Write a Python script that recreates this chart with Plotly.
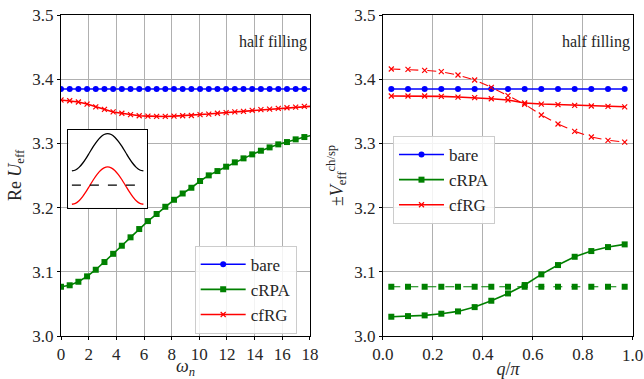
import plotly.graph_objects as go

# ---------------- data ----------------
# left panel: Matsubara frequencies omega_n = 2*pi*n*T (T = 0.1)
omega_n = [0.0, 0.628, 1.257, 1.885, 2.513, 3.142, 3.770, 4.398, 5.027, 5.655,
           6.283, 6.912, 7.540, 8.168, 8.796, 9.425, 10.053, 10.681, 11.310, 11.938,
           12.566, 13.195, 13.823, 14.451, 15.080, 15.708, 16.336, 16.965, 17.593, 18.221]
bare_left = [3.3847] * 30
crpa_left = [3.0767, 3.0790, 3.0845, 3.0929, 3.1032, 3.1152, 3.1280, 3.1406, 3.1537, 3.1666,
             3.1790, 3.1900, 3.2013, 3.2122, 3.2220, 3.2309, 3.2414, 3.2502, 3.2569, 3.2637,
             3.2705, 3.2767, 3.2829, 3.2886, 3.2938, 3.2985, 3.3021, 3.3063, 3.3099, 3.3130]
cfrg_left = [3.3676, 3.3665, 3.3645, 3.3613, 3.3570, 3.3530, 3.3490, 3.3470, 3.3447, 3.3430,
             3.3425, 3.3420, 3.3420, 3.3425, 3.3430, 3.3435, 3.3447, 3.3457, 3.3470, 3.3480,
             3.3490, 3.3500, 3.3515, 3.3525, 3.3535, 3.3545, 3.3555, 3.3566, 3.3576, 3.3580]

# right panel: momentum q/pi
q_over_pi = [0.0333, 0.1, 0.1667, 0.2333, 0.3, 0.3667, 0.4333, 0.5, 0.5667, 0.6333,
             0.7, 0.7667, 0.8333, 0.9, 0.9667]
bare_right = [3.3847] * 15
crpa_ch = [3.0300, 3.0310, 3.0321, 3.0347, 3.0383, 3.0450, 3.0549, 3.0663, 3.0794, 3.0960,
           3.1105, 3.1234, 3.1323, 3.1385, 3.1427]
crpa_sp = [3.0767] * 15
cfrg_ch = [3.3738, 3.3738, 3.3738, 3.3733, 3.3722, 3.3712, 3.3696, 3.3676, 3.3629, 3.3613,
           3.3603, 3.3593, 3.3582, 3.3577, 3.3570]
cfrg_sp = [3.4159, 3.4154, 3.4138, 3.4117, 3.4065, 3.3987, 3.3873, 3.3743, 3.3609, 3.3442,
           3.3302, 3.3188, 3.3099, 3.3048, 3.3021]

# inset schematic (cosine-like band shapes)
inset_x = [-1.0, -0.9, -0.8, -0.7, -0.6, -0.5, -0.4, -0.3, -0.2, -0.1, 0.0,
           0.1, 0.2, 0.3, 0.4, 0.5, 0.6, 0.7, 0.8, 0.9, 1.0]
inset_black = [0.474, 0.486, 0.520, 0.573, 0.639, 0.714, 0.788, 0.854, 0.907, 0.941, 0.953,
               0.941, 0.907, 0.854, 0.788, 0.714, 0.639, 0.573, 0.520, 0.486, 0.474]
inset_red = [0.047, 0.059, 0.093, 0.146, 0.212, 0.287, 0.361, 0.427, 0.480, 0.514, 0.526,
             0.514, 0.480, 0.427, 0.361, 0.287, 0.212, 0.146, 0.093, 0.059, 0.047]
inset_dash_x = [-1.0, 1.0]
inset_dash_y = [0.291, 0.291]

x_ticks_left = [0, 2, 4, 6, 8, 10, 12, 14, 16, 18]
x_ticks_right = [0.0, 0.2, 0.4, 0.6, 0.8, 1.0]
x_ticktext_right = ["0.0", "0.2", "0.4", "0.6", "0.8", ""]   # last label drawn as annotation (edge of page)
y_ticks = [3.0, 3.1, 3.2, 3.3, 3.4, 3.5]

BLUE = "#0000ff"
GREEN = "#008000"
RED = "#ff0000"
FONT = "Liberation Serif"
TXT = "#262626"

fig = go.Figure()

# ---- left panel ----
fig.add_trace(go.Scatter(x=omega_n, y=bare_left, mode="lines+markers", name="bare",
                         line=dict(color=BLUE, width=1.6), marker=dict(symbol="circle", size=6, color=BLUE),
                         xaxis="x", yaxis="y", legend="legend"))
fig.add_trace(go.Scatter(x=omega_n, y=crpa_left, mode="lines+markers", name="cRPA",
                         line=dict(color=GREEN, width=1.6), marker=dict(symbol="square", size=6, color=GREEN),
                         xaxis="x", yaxis="y", legend="legend"))
fig.add_trace(go.Scatter(x=omega_n, y=cfrg_left, mode="lines+markers", name="cfRG",
                         line=dict(color=RED, width=1.6),
                         marker=dict(symbol="x-thin", size=5, color=RED, line=dict(color=RED, width=1.2)),
                         xaxis="x", yaxis="y", legend="legend"))

# ---- right panel ----
fig.add_trace(go.Scatter(x=q_over_pi, y=bare_right, mode="lines+markers", name="bare",
                         line=dict(color=BLUE, width=1.6), marker=dict(symbol="circle", size=6, color=BLUE),
                         xaxis="x2", yaxis="y2", legend="legend2"))
fig.add_trace(go.Scatter(x=q_over_pi, y=crpa_ch, mode="lines+markers", name="cRPA",
                         line=dict(color=GREEN, width=1.6), marker=dict(symbol="square", size=6, color=GREEN),
                         xaxis="x2", yaxis="y2", legend="legend2"))
fig.add_trace(go.Scatter(x=q_over_pi, y=crpa_sp, mode="lines+markers", name="cRPA sp", showlegend=False,
                         line=dict(color=GREEN, width=1.2, dash="dash"),
                         marker=dict(symbol="square", size=6, color=GREEN),
                         xaxis="x2", yaxis="y2"))
fig.add_trace(go.Scatter(x=q_over_pi, y=cfrg_ch, mode="lines+markers", name="cfRG",
                         line=dict(color=RED, width=1.6),
                         marker=dict(symbol="x-thin", size=5, color=RED, line=dict(color=RED, width=1.2)),
                         xaxis="x2", yaxis="y2", legend="legend2"))
fig.add_trace(go.Scatter(x=q_over_pi, y=cfrg_sp, mode="lines+markers", name="cfRG sp", showlegend=False,
                         line=dict(color=RED, width=1.1, dash="dash"),
                         marker=dict(symbol="x-thin", size=5, color=RED, line=dict(color=RED, width=1.2)),
                         xaxis="x2", yaxis="y2"))

# ---- inset ----
fig.add_trace(go.Scatter(x=inset_x, y=inset_black, mode="lines", line=dict(color="black", width=1.3, shape="spline"),
                         showlegend=False, xaxis="x3", yaxis="y3"))
fig.add_trace(go.Scatter(x=inset_x, y=inset_red, mode="lines", line=dict(color=RED, width=1.3, shape="spline"),
                         showlegend=False, xaxis="x3", yaxis="y3"))
fig.add_trace(go.Scatter(x=inset_dash_x, y=inset_dash_y, mode="lines", line=dict(color="black", width=1.3, dash="dash"),
                         showlegend=False, xaxis="x3", yaxis="y3"))

axis_common = dict(showline=True, linecolor="black", linewidth=1, mirror=True,
                   showgrid=True, gridcolor="#b0b0b0", gridwidth=1, automargin=False,
                   ticks="outside", ticklen=3, tickcolor="black", zeroline=False,
                   ticklabeloverflow="allow",
                   tickfont=dict(family=FONT, size=17, color=TXT))

fig.update_layout(
    width=644, height=379,
    margin=dict(l=61, r=11, t=15, b=43),
    plot_bgcolor="white", paper_bgcolor="white",
    font=dict(family=FONT, size=18, color=TXT),
    xaxis=dict(domain=[0, 0.4353], range=[0, 18], tickvals=x_ticks_left, anchor="y",
               title=dict(text="<i>ω</i><sub><i>n</i></sub>", standoff=5, font=dict(size=18)), **axis_common),
    yaxis=dict(domain=[0, 1], range=[3.0, 3.5], tickvals=y_ticks, tickformat=".1f", anchor="x",
               title=dict(text="Re <i>U</i><sub>eff</sub>", standoff=6, font=dict(size=18)), **axis_common),
    xaxis2=dict(domain=[0.5629, 1], range=[0, 1], tickvals=x_ticks_right, ticktext=x_ticktext_right, anchor="y2",
                title=dict(text="<i>q</i>/<i>π</i>", standoff=5, font=dict(size=18)), **axis_common),
    yaxis2=dict(domain=[0, 1], range=[3.0, 3.5], tickvals=y_ticks, tickformat=".1f", anchor="x2",
                title=dict(text="±<i>V</i><sub>eff</sub><sup>ch/sp</sup>", standoff=6, font=dict(size=18)), **axis_common),
    xaxis3=dict(domain=[0.0128, 0.1503], range=[-1.1, 1.1], anchor="y3", showgrid=False, zeroline=False,
                showticklabels=False, ticks="", showline=True, mirror=True, linecolor="black", linewidth=1),
    yaxis3=dict(domain=[0.399, 0.642], range=[0, 1], anchor="x3", showgrid=False, zeroline=False,
                showticklabels=False, ticks="", showline=True, mirror=True, linecolor="black", linewidth=1),
    legend=dict(x=0.2337, y=0.2813, xanchor="left", yanchor="top", itemwidth=45,
                bgcolor="rgba(255,255,255,0.85)", bordercolor="#cccccc", borderwidth=1,
                font=dict(family=FONT, size=17, color=TXT)),
    legend2=dict(x=0.5804, y=0.623, xanchor="left", yanchor="top", itemwidth=45,
                 bgcolor="rgba(255,255,255,0.85)", bordercolor="#cccccc", borderwidth=1,
                 font=dict(family=FONT, size=17, color=TXT)),
    annotations=[
        dict(text="half filling", xref="x domain", yref="y domain", x=0.995, y=0.915,
             xanchor="right", yanchor="middle", showarrow=False, font=dict(family=FONT, size=16, color=TXT)),
        dict(text="half filling", xref="x2 domain", yref="y2 domain", x=0.995, y=0.915,
             xanchor="right", yanchor="middle", showarrow=False, font=dict(family=FONT, size=16, color=TXT)),
        dict(text=f"{x_ticks_right[-1]:.1f}", xref="x2", yref="y2 domain", x=x_ticks_right[-1], y=0,
             xanchor="center", yanchor="top", yshift=-8, showarrow=False,
             font=dict(family=FONT, size=17, color=TXT)),
    ],
)

fig.write_html("out.html")
